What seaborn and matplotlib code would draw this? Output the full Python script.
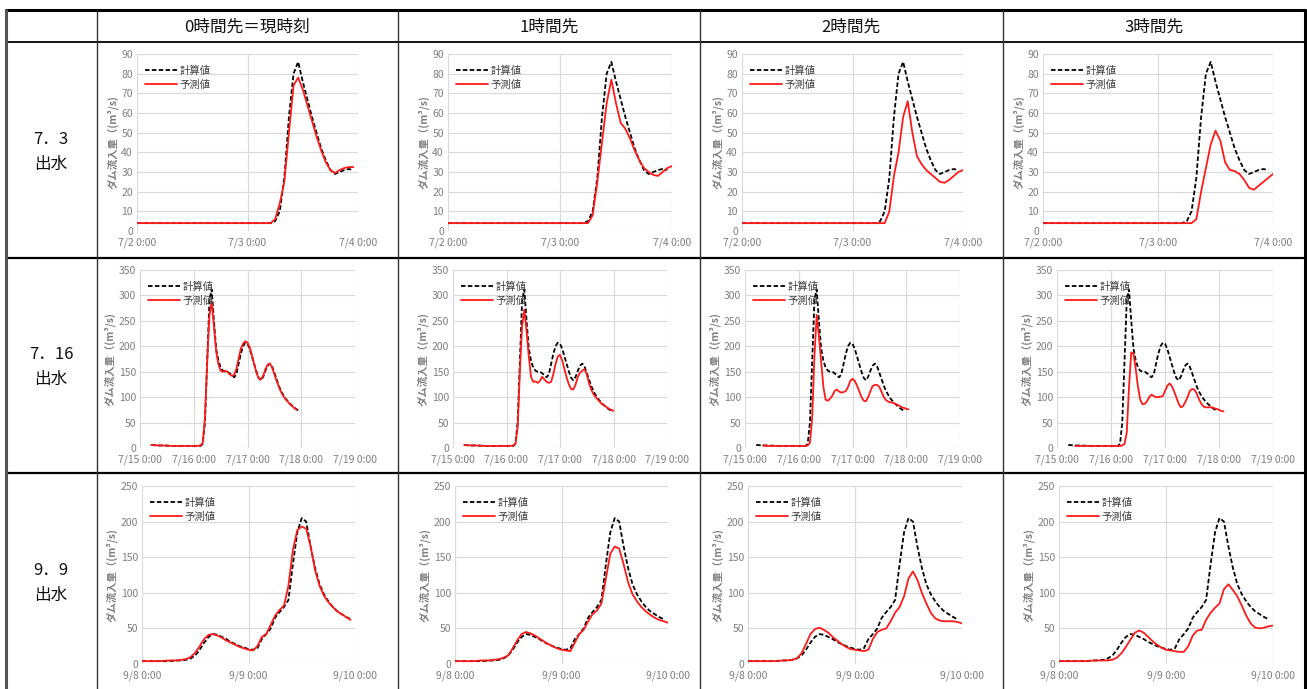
import numpy as np
import matplotlib
matplotlib.use("Agg")
import matplotlib.pyplot as plt
import seaborn as sns

sns.set_theme(style="white")
plt.rcParams['font.family'] = ['Noto Sans CJK JP', 'DejaVu Sans']

nan = np.nan

# --- data (hours from the first tick of each event) ---
col_titles = ['0時間先＝現時刻', '1時間先', '2時間先', '3時間先']
row_titles = ['7．3\n出水', '7．16\n出水', '9．9\n出水']
legend_calc = '計算値'
legend_pred = '予測値'
y_label = 'ダム流入量（(m³/s)'

# 7.3 event
row1_xticklabels = ['7/2 0:00', '7/3 0:00', '7/4 0:00']
row1_yticks = list(range(0, 91, 10))
row1_hours = [0, 6, 12, 18, 24, 28, 29, 30, 31, 32, 33, 34, 35, 36, 37, 38, 39,
              40, 41, 42, 43, 44, 45, 46, 47, 48]
row1_calc = [4, 4, 4, 4, 4, 4, 4, 5, 10, 27, 58, 80, 86, 76, 67, 58, 50,
             42, 36, 31, 29, 30, 31, 31.5, 31, nan]
row1_pred_0 = [4, 4, 4, 4, 4, 4, 4, 6, 14, 25, 50, 74, 78, 72, 64, 56, 48,
               41, 35, 31, 29.5, 31, 32, 32.5, 32.5, nan]
row1_pred_1 = [4, 4, 4, 4, 4, 4, 4, 4, 8, 25, 45, 65, 77, 65, 55, 52, 47,
               41, 36, 32, 30, 28.5, 28, 30, 32, 33]
row1_pred_2 = [4, 4, 4, 4, 4, 4, 4, 4, 4, 10, 28, 40, 58, 66, 50, 38, 34,
               31, 29, 27, 25, 24.5, 26, 28, 30, 31]
row1_pred_3 = [4, 4, 4, 4, 4, 4, 4, 4, 4, 6, 20, 32, 44, 51, 46, 35, 31,
               30.5, 29, 26, 22, 21, 23, 25, 27, 29]

# 7.16 event
row2_xticklabels = ['7/15 0:00', '7/16 0:00', '7/17 0:00', '7/18 0:00', '7/19 0:00']
row2_yticks = list(range(0, 351, 50))
row2_hours = [5, 8, 10, 15, 20, 25, 27] + list(range(28, 75))
row2_calc = [6, 5, 5, 4, 4, 4, 4,
             8, 50, 170, 290, 312, 250, 195, 172, 158, 152, 150, 150, 147, 143,
             139, 145, 165, 185, 200, 207, 205, 195, 180, 165, 150, 138, 133, 140,
             152, 162, 166, 160, 148, 135, 122, 112, 104, 97, 92, 87, 83, 79, 76,
             73, nan, nan, nan]
row2_pred_0 = [6, 5, 5, 4, 4, 4, 5,
               10, 60, 170, 260, 288, 240, 190, 165, 152, 150, 152, 150, 145, 142,
               143, 155, 175, 195, 205, 210, 207, 198, 182, 165, 148, 137, 135, 142,
               155, 164, 166, 158, 145, 132, 120, 110, 102, 96, 91, 86, 82, 78, 75,
               nan, nan, nan, nan]
row2_pred_1 = [6, 5, 5, 4, 4, 4, 5,
               8, 40, 150, 240, 272, 230, 180, 140, 130, 131, 128, 132, 140, 135,
               130, 128, 130, 145, 165, 180, 183, 172, 155, 138, 125, 116, 115, 125,
               140, 148, 152, 155, 145, 128, 115, 106, 100, 95, 90, 86, 83, 80, 77,
               75, 73, nan, nan]
row2_pred_2 = [nan, 5, 4, 4, 4, 4, 4,
               5, 10, 60, 180, 262, 220, 170, 120, 95, 93, 97, 103, 112, 115,
               111, 109, 110, 112, 120, 132, 136, 132, 123, 112, 100, 93, 92, 100,
               112, 122, 124, 124, 120, 110, 100, 94, 91, 90, 89, 87, 85, 83, 80,
               79, 77, 76, nan]
row2_pred_3 = [nan, 4, 4, 4, 4, 4, 4,
               4, 5, 8, 30, 120, 188, 185, 155, 120, 95, 86, 87, 92, 100,
               105, 102, 100, 100, 101, 102, 112, 122, 127, 122, 112, 100, 88, 80,
               82, 90, 100, 112, 116, 115, 108, 97, 88, 82, 80, 80, 80, 80, 78,
               77, 75, 73, 72]

# 9.9 event
row3_xticklabels = ['9/8 0:00', '9/9 0:00', '9/10 0:00']
row3_yticks = list(range(0, 251, 50))
row3_hours = [0, 2, 4, 6] + list(range(8, 49))
row3_calc = [4, 4, 4, 4, 5, 5, 6, 8, 12, 20, 30, 38, 42, 41, 38, 35, 31, 28, 25,
             23, 21, 20, 22, 35, 42, 50, 65, 73, 80, 90, 140, 185, 205, 200, 165,
             135, 112, 98, 88, 80, 74, 70, 66, 63, nan]
row3_pred_0 = [4, 4, 4, 5, 5, 6, 7, 10, 16, 25, 35, 41, 42, 40, 37, 33, 30, 27, 24,
               22, 20, 19, 25, 38, 42, 55, 68, 76, 82, 110, 160, 188, 193, 190, 165,
               132, 110, 96, 87, 80, 74, 70, 66, 62, nan]
row3_pred_1 = [4, 4, 4, 5, 5, 6, 7, 9, 12, 22, 33, 42, 45, 43, 40, 36, 32, 28, 25,
               22, 20, 19, 18, 30, 42, 48, 60, 70, 75, 85, 120, 155, 165, 162, 140,
               115, 98, 88, 80, 74, 69, 65, 62, 60, 58]
row3_pred_2 = [4, 4, 4, 4, 5, 5, 6, 8, 15, 28, 42, 49, 51, 48, 44, 38, 33, 28, 24,
               21, 20, 19, 18, 20, 35, 45, 48, 50, 60, 72, 80, 95, 120, 130, 118,
               100, 85, 72, 64, 61, 60, 60, 60, 59, 57]
row3_pred_3 = [4, 4, 4, 4, 5, 5, 5, 5, 6, 9, 15, 24, 34, 44, 47, 44, 38, 32, 27,
               23, 20, 19, 18, 17, 17, 25, 40, 47, 48, 62, 72, 79, 85, 105, 112,
               104, 95, 82, 68, 57, 51, 50, 51, 53, 54]

rows = [
    (row1_hours, row1_calc, [row1_pred_0, row1_pred_1, row1_pred_2, row1_pred_3],
     row1_xticklabels, row1_yticks),
    (row2_hours, row2_calc, [row2_pred_0, row2_pred_1, row2_pred_2, row2_pred_3],
     row2_xticklabels, row2_yticks),
    (row3_hours, row3_calc, [row3_pred_0, row3_pred_1, row3_pred_2, row3_pred_3],
     row3_xticklabels, row3_yticks),
]

# --- layout (pixels) ---
W, H = 1307, 689
row_y = [(54, 231), (270, 448), (486, 664)]
row_x = [
    [(137, 358), (448, 672), (742, 963), (1043, 1273)],
    [(140, 355), (453, 667), (745, 960), (1057, 1273)],
    [(142, 355), (455, 668), (748, 962), (1059, 1273)],
]
tick_gray = '#7f7f7f'
grid_gray = '#d9d9d9'

fig = plt.figure(figsize=(W / 100, H / 100), dpi=100)

# table frame
bg = fig.add_axes([0, 0, 1, 1])
bg.set_xlim(0, W)
bg.set_ylim(H, 0)
bg.axis('off')
bg.hlines(10, 5, 1306, color='black', lw=2.2)
bg.hlines(42, 5, 1306, color='black', lw=1.3)
bg.hlines([258, 473], 5, 1306, color='black', lw=1.6)
bg.vlines(6, 9, H, color='#555555', lw=2.2)
bg.vlines(1305, 9, H, color='black', lw=2.2)
bg.vlines([97, 398, 700, 1003], 10, H, color='#333333', lw=1.0)

col_centers = [247, 549, 851, 1154]
for cx, t in zip(col_centers, col_titles):
    bg.text(cx, 27, t, ha='center', va='center', fontsize=12, color='#111111')
row_centers = [152, 367, 583]
for cy, t in zip(row_centers, row_titles):
    bg.text(51, cy, t, ha='center', va='center', fontsize=12,
            color='#111111', linespacing=1.6)

for r, (hours, calc, preds, xtl, yticks) in enumerate(rows):
    y0, y1 = row_y[r]
    xmax = 24 * (len(xtl) - 1)
    for c in range(4):
        x0, x1 = row_x[r][c]
        ax = fig.add_axes([x0 / W, 1 - y1 / H, (x1 - x0) / W, (y1 - y0) / H])
        sns.lineplot(x=hours, y=calc, ax=ax, color='black', lw=1.3,
                     ls=(0, (2.5, 1.3)), label=legend_calc)
        sns.lineplot(x=hours, y=preds[c], ax=ax, color='#ff1a1a', lw=1.3,
                     label=legend_pred)
        ax.set_xlim(0, xmax)
        ax.set_ylim(0, yticks[-1])
        ax.set_xticks(range(0, xmax + 1, 24))
        ax.set_xticklabels(xtl)
        ax.set_yticks(yticks)
        ax.tick_params(length=0, labelsize=7.5, colors=tick_gray, pad=3)
        ax.tick_params(axis='x', pad=5)
        ax.grid(True, color=grid_gray, lw=0.8)
        for s in ax.spines.values():
            s.set_visible(False)
        ax.set_xlabel('')
        ax.set_ylabel(y_label, fontsize=7.5, color=tick_gray, fontweight='bold',
                      labelpad=2)
        leg = ax.legend(loc='upper left', bbox_to_anchor=(0.0, 0.98), frameon=False,
                        fontsize=7.5, handlelength=3.0, handletextpad=0.3,
                        labelspacing=0.35, borderaxespad=0.4)
        for txt in leg.get_texts():
            txt.set_color('#404040')

fig.savefig('out.png', dpi=100)
